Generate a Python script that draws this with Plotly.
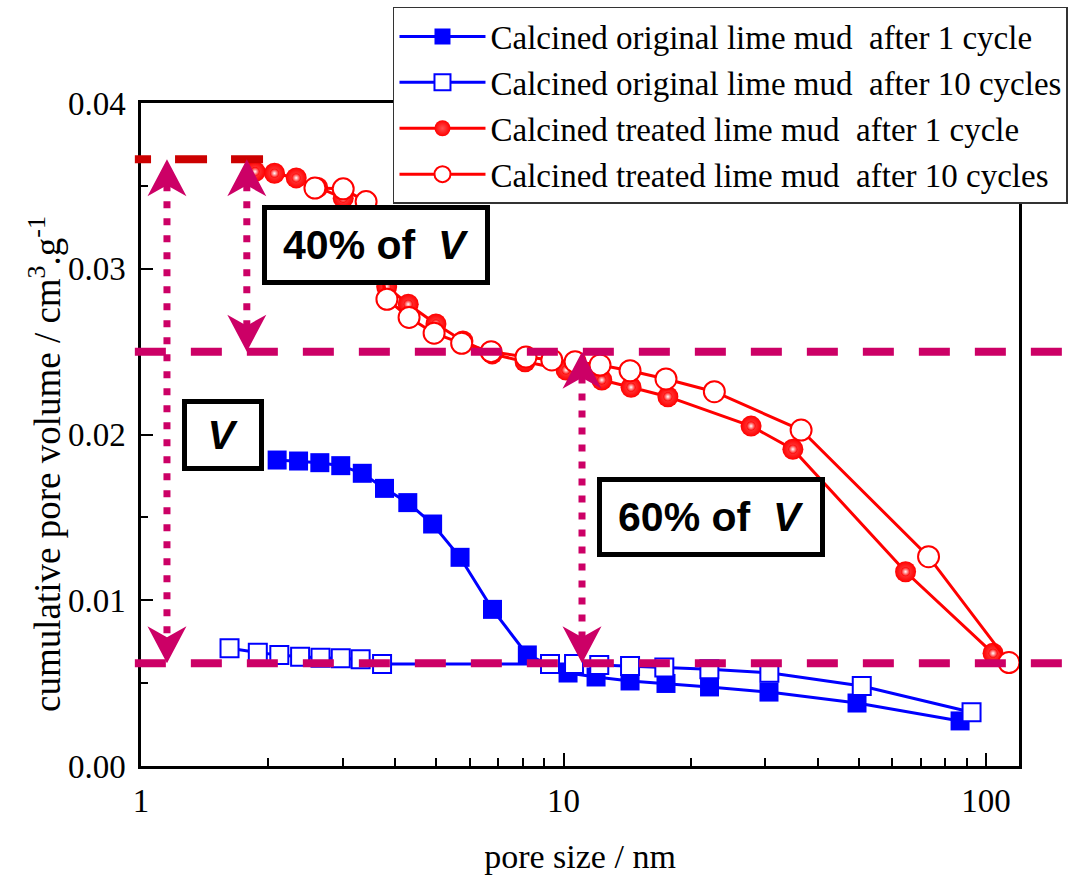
import plotly.graph_objects as go

# ---------------------------------------------------------------------------
# Cumulative pore volume vs pore size (nm)
# ---------------------------------------------------------------------------
# Calcined original lime mud, after 1 cycle
pore_orig_1 = [2.10, 2.36, 2.65, 2.97, 3.34, 3.77, 4.28, 4.90, 5.69, 6.79, 8.21,
               10.25, 11.94, 14.37, 17.48, 22.16, 30.64, 49.5, 86.8]
vol_orig_1 = [0.01846, 0.01840, 0.01830, 0.01812, 0.01766, 0.01675, 0.01589, 0.01460,
              0.01259, 0.00945, 0.00670, 0.00561, 0.00537, 0.00513, 0.00498, 0.00477,
              0.00446, 0.00380, 0.00272]

# Calcined original lime mud, after 10 cycles
pore_orig_10 = [1.62, 1.89, 2.125, 2.38, 2.66, 2.97, 3.31, 3.72, 9.29, 10.59, 12.15,
                14.37, 17.32, 22.14, 30.7, 50.8, 92.4]
vol_orig_10 = [0.00710, 0.00684, 0.00670, 0.00659, 0.00653, 0.00650, 0.00644, 0.00615,
               0.00615, 0.00615, 0.00609, 0.00603, 0.00595, 0.00583, 0.00563, 0.00483,
               0.00324]

# Calcined treated lime mud, after 1 cycle
pore_treat_1 = [1.862, 2.07, 2.33, 2.62, 3.01, 3.815, 4.29, 4.99, 5.78, 6.78, 8.11,
                10.14, 12.32, 14.45, 17.66, 27.79, 34.9, 64.5, 103.9]
vol_treat_1 = [0.03586, 0.03576, 0.03548, 0.03490, 0.03426, 0.02892, 0.02786, 0.02667,
               0.02564, 0.02486, 0.02439, 0.02389, 0.02329, 0.02285, 0.02228, 0.02051,
               0.01911, 0.01172, 0.00680]

# Calcined treated lime mud, after 10 cycles
pore_treat_10 = [2.58, 3.01, 3.41, 3.82, 4.31, 4.94, 5.74, 6.74, 8.15, 9.38, 10.65,
                 12.2, 14.37, 17.48, 22.75, 36.5, 73.1, 113.3]
vol_treat_10 = [0.03487, 0.03482, 0.03405, 0.02816, 0.02706, 0.02611, 0.02550, 0.02500,
                0.02468, 0.02450, 0.02439, 0.02419, 0.02385, 0.02335, 0.02258, 0.02027,
                0.01263, 0.00624]

series_names = [
    "Calcined original lime mud\u00a0 after 1 cycle",
    "Calcined original lime mud\u00a0 after 10 cycles",
    "Calcined treated lime mud\u00a0 after 1 cycle",
    "Calcined treated lime mud\u00a0 after 10 cycles",
]

# Reference volume levels: total V, 40 % / 60 % split, residual baseline
V_TOP = 0.0366
V_SPLIT = 0.025
V_BASE = 0.0062

# Pore sizes at which the double arrows are drawn
arrow_x = [1.152, 1.78, 11.06]
arrow_spans = [(V_TOP, V_BASE), (V_TOP, V_SPLIT), (V_SPLIT, V_BASE)]

box_labels = ["<b>40% of\u00a0 <i>V</i></b>", "<b><i>V</i></b>", "<b>60% of\u00a0 <i>V</i></b>"]

x_title = "pore size / nm"
y_title = "cumulative pore volume / cm<sup>3</sup>.g<sup>-1</sup>"

BLUE = "#0000ff"
RED = "#ff0000"
DARK_RED = "#cc0000"
MAGENTA = "#cc0066"
SERIF = "Liberation Serif"
SANS = "Liberation Sans"

fig = go.Figure()

fig.add_trace(go.Scatter(
    x=pore_orig_1, y=vol_orig_1, mode="lines+markers", name=series_names[0],
    line=dict(color=BLUE, width=3),
    marker=dict(symbol="square", size=19, color=BLUE, line=dict(width=0)),
))
fig.add_trace(go.Scatter(
    x=pore_orig_10, y=vol_orig_10, mode="lines+markers", name=series_names[1],
    line=dict(color=BLUE, width=3),
    marker=dict(symbol="square", size=18, color="white", line=dict(color=BLUE, width=2)),
))
fig.add_trace(go.Scatter(
    x=pore_treat_1, y=vol_treat_1, mode="lines+markers", name=series_names[2],
    line=dict(color=RED, width=3),
    marker=dict(symbol="circle", size=21, color=RED, line=dict(width=0),
                gradient=dict(type="radial", color="#ff5050")),
))
# specular highlight on the shaded spheres
fig.add_trace(go.Scatter(
    x=pore_treat_1, y=vol_treat_1, mode="markers", showlegend=False, hoverinfo="skip",
    marker=dict(symbol="circle", size=9, color=RED, line=dict(width=0),
                gradient=dict(type="radial", color="white")),
))
fig.add_trace(go.Scatter(
    x=pore_treat_10, y=vol_treat_10, mode="lines+markers", name=series_names[3],
    line=dict(color=RED, width=3),
    marker=dict(symbol="circle", size=21, color="white", line=dict(color=RED, width=2)),
))

shapes = []
# top level of V (drawn right-to-left so the dash pattern starts at the right end)
shapes.append(dict(type="line", xref="paper", yref="y", x0=0.139, x1=-0.007,
                   y0=V_TOP, y1=V_TOP, layer="above",
                   line=dict(color=DARK_RED, width=8, dash="32px,24px")))
# split level and baseline, running past the frame
for level in (V_SPLIT, V_BASE):
    shapes.append(dict(type="line", xref="paper", yref="y", x0=-0.007, x1=1.08,
                       y0=level, y1=level, layer="above",
                       line=dict(color=MAGENTA, width=8, dash="31px,25px")))

HEAD_INSET = 0.0015
HEAD_UP = "M0,0 L19.5,-37 L0,-26 L-19.5,-37 Z"
HEAD_DOWN = "M0,0 L19.5,37 L0,26 L-19.5,37 Z"
for ax_x, (y_hi, y_lo) in zip(arrow_x, arrow_spans):
    shapes.append(dict(type="line", xref="x", yref="y", x0=ax_x, x1=ax_x,
                       y0=y_hi - HEAD_INSET, y1=y_lo + HEAD_INSET, layer="above",
                       line=dict(color=MAGENTA, width=7, dash="7px,10px")))
    shapes.append(dict(type="path", xref="x", yref="y", xsizemode="pixel", ysizemode="pixel",
                       xanchor=ax_x, yanchor=y_hi, path=HEAD_UP, layer="above",
                       fillcolor=MAGENTA, line=dict(width=0)))
    shapes.append(dict(type="path", xref="x", yref="y", xsizemode="pixel", ysizemode="pixel",
                       xanchor=ax_x, yanchor=y_lo, path=HEAD_DOWN, layer="above",
                       fillcolor=MAGENTA, line=dict(width=0)))

# framed labels: (x, y) centre in paper units, inner width/height in px
box_geom = [(0.2677, 0.7858, 218, 70), (0.0934, 0.4992, 72, 62), (0.6492, 0.3756, 218, 70)]
annotations = []
for text, (bx, by, bw, bh) in zip(box_labels, box_geom):
    annotations.append(dict(
        xref="paper", yref="paper", x=bx, y=by, xanchor="center", yanchor="middle",
        text=text, showarrow=False, bgcolor="white", bordercolor="black",
        borderwidth=5, borderpad=0, width=bw, height=bh,
        font=dict(family=SANS, size=41, color="black"),
    ))
# vertical axis title, set a little below the axis midpoint
annotations.append(dict(
    xref="paper", yref="paper", x=-0.109, y=0.456, xanchor="center", yanchor="middle",
    text=y_title, textangle=-90, showarrow=False,
    font=dict(family=SERIF, size=37, color="black"),
))

fig.update_layout(
    width=1082, height=885,
    margin=dict(l=141, r=63, t=103, b=119, autoexpand=False),
    paper_bgcolor="white", plot_bgcolor="white",
    font=dict(family=SERIF, size=32, color="black"),
    shapes=shapes, annotations=annotations,
    legend=dict(x=0.287, y=1.1448, xanchor="left", yanchor="top",
                bgcolor="white", bordercolor="#333333", borderwidth=1.5,
                font=dict(family=SERIF, size=33, color="black"),
                itemwidth=86, tracegroupgap=0, itemsizing="trace"),
    showlegend=True,
)

fig.update_xaxes(
    type="log", range=[0, 2.078], dtick=1,
    showline=True, linecolor="black", linewidth=2.5, mirror=True,
    ticks="inside", ticklen=13, tickwidth=2, tickcolor="black",
    showgrid=False, zeroline=False,
    tickfont=dict(family=SERIF, size=33), ticklabelstandoff=4,
    minor=dict(ticks="inside", ticklen=8, tickwidth=2, tickcolor="black", dtick="D1", showgrid=False),
    title=dict(text=x_title, font=dict(family=SERIF, size=34), standoff=26),
)
fig.update_yaxes(
    range=[0, 0.04], dtick=0.01, tickformat=".2f",
    showline=True, linecolor="black", linewidth=2.5, mirror=True,
    ticks="inside", ticklen=12, tickwidth=2, tickcolor="black",
    showgrid=False, zeroline=False,
    tickfont=dict(family=SERIF, size=33), ticklabelstandoff=6,
    minor=dict(ticks="inside", ticklen=7, tickwidth=2, tickcolor="black", dtick=0.005, showgrid=False),
)

fig.write_html("out.html")
